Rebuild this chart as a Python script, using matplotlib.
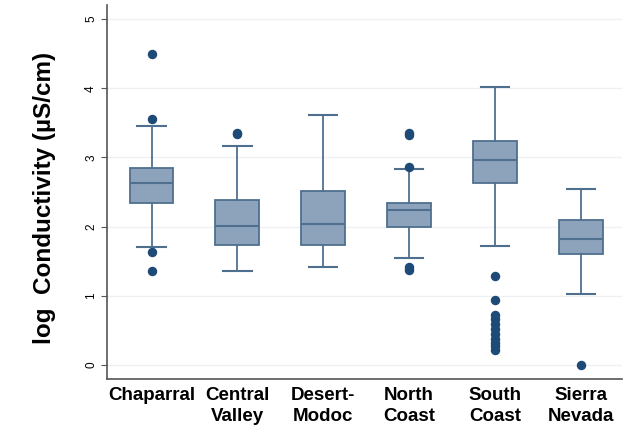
import matplotlib
matplotlib.use('Agg')
import matplotlib.pyplot as plt

plt.rcParams['font.family'] = ['Liberation Sans', 'DejaVu Sans']

# 各区域的箱线图统计值
regions = ['Chaparral', 'Central\nValley', 'Desert-\nModoc', 'North\nCoast',
           'South\nCoast', 'Sierra\nNevada']
whislo = [1.70, 1.36, 1.41, 1.54, 1.72, 1.02]
q1 = [2.34, 1.74, 1.74, 1.99, 2.63, 1.60]
med = [2.63, 2.01, 2.04, 2.24, 2.97, 1.82]
q3 = [2.85, 2.38, 2.51, 2.34, 3.24, 2.10]
whishi = [3.46, 3.16, 3.61, 2.83, 4.02, 2.55]
fliers = [
    [4.49, 3.56, 1.64, 1.36],
    [3.34, 3.35],
    [],
    [3.33, 3.36, 2.86, 1.38, 1.42],
    [1.29, 0.94, 0.73, 0.66, 0.59, 0.52, 0.45, 0.38, 0.32, 0.27, 0.22],
    [0.0],
]

fill = '#8da3bc'
edge = '#4f6f8f'
dot = '#1d4a76'

stats = []
for i in range(len(regions)):
    stats.append({'whislo': whislo[i], 'q1': q1[i], 'med': med[i],
                  'q3': q3[i], 'whishi': whishi[i], 'fliers': fliers[i]})

fig = plt.figure(figsize=(6.25, 4.32), dpi=100)
ax = fig.add_axes([0.171, 0.123, 0.824, 0.865])

ax.bxp(stats, positions=range(len(regions)), widths=0.51, patch_artist=True,
       boxprops=dict(facecolor=fill, edgecolor=edge, linewidth=1.3),
       medianprops=dict(color=edge, linewidth=1.5),
       whiskerprops=dict(color=edge, linewidth=1.3),
       capprops=dict(color=edge, linewidth=1.5),
       capwidths=0.33,
       flierprops=dict(marker='o', markersize=5.8, markerfacecolor=dot,
                       markeredgecolor=dot))

ax.set_xlim(-0.52, 5.48)
ax.set_ylim(-0.2, 5.2)
ax.set_yticks([0, 1, 2, 3, 4, 5])
ax.set_yticklabels(['0', '1', '2', '3', '4', '5'], rotation=90,
                   va='center', fontsize=8.5)
ax.set_xticks(range(len(regions)))
ax.set_xticklabels(regions, fontsize=13.5, fontweight='bold',
                   linespacing=1.3)
ax.tick_params(axis='x', length=0, pad=6)
ax.tick_params(axis='y', length=4, color='#555555', pad=3)

ax.yaxis.grid(True, color='#eef0f3', linewidth=1.0)
ax.set_axisbelow(True)
for side in ['top', 'right']:
    ax.spines[side].set_visible(False)
for side in ['left', 'bottom']:
    ax.spines[side].set_color('#555555')
    ax.spines[side].set_linewidth(1.2)

ax.set_ylabel('log  Conductivity (µS/cm)', fontsize=17.5, fontweight='bold')
ax.yaxis.set_label_coords(-0.099, 0.485)

fig.savefig('out.png', dpi=100)
